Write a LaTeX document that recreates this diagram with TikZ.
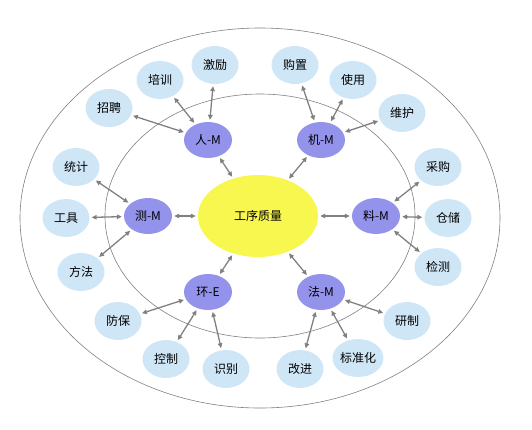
\documentclass[tikz,border=0pt]{standalone}
\usepackage{fontspec}
\newfontfamily\cjk{Noto Sans CJK SC}
\usepackage{tikz}
\usetikzlibrary{shapes.geometric,arrows.meta}

\definecolor{leafblue}{RGB}{207,230,247}
\definecolor{mpurple}{RGB}{147,147,236}
\definecolor{coreyellow}{RGB}{247,247,80}
\definecolor{linegray}{RGB}{128,128,128}

\tikzset{
  leaf/.style={ellipse, fill=leafblue, minimum width=47pt, minimum height=38pt, inner sep=0pt, font=\cjk\fontsize{12}{14}\selectfont},
  factor/.style={ellipse, fill=mpurple, minimum width=48pt, minimum height=36pt, inner sep=0pt, font=\cjk\fontsize{12}{14}\selectfont},
  link/.style={draw=linegray, line width=1.3pt, {Triangle[length=5pt,width=4.5pt]}-{Triangle[length=5pt,width=4.5pt]}, shorten <=2pt, shorten >=2pt}
}

\begin{document}
\begin{tikzpicture}[x=1pt,y=-1pt]
\useasboundingbox (0,0) rectangle (532,429);
% Two rings
\draw[linegray, line width=0.6pt] (260,218) ellipse [x radius=240, y radius=190];
\draw[linegray, line width=0.6pt] (260,216) ellipse [x radius=155, y radius=122];
% Core
\node[ellipse, fill=coreyellow, minimum width=120pt, minimum height=82pt, font=\cjk\fontsize{12}{14}\selectfont] (core) at (258,216) {工序质量};
% Six factors
\node[factor] (ren) at (208,140) {人-M};
\node[factor] (ji) at (321,140) {机-M};
\node[factor] (ce) at (148,216) {测-M};
\node[factor] (liao) at (376,216) {料-M};
\node[factor] (huan) at (208,292) {环-E};
\node[factor] (fa) at (321,292) {法-M};
% Leaves of 人
\node[leaf] (zhaopin) at (109,108) {招聘};
\node[leaf] (peixun) at (160,80) {培训};
\node[leaf] (jili) at (215,65) {激励};
% Leaves of 机
\node[leaf] (gouzhi) at (295,65) {购置};
\node[leaf] (shiyong) at (353,80) {使用};
\node[leaf] (weihu) at (402,113) {维护};
% Leaves of 测
\node[leaf] (tongji) at (76,167) {统计};
\node[leaf] (gongju) at (66,218) {工具};
\node[leaf] (fangfa) at (81,272) {方法};
% Leaves of 料
\node[leaf] (caigou) at (438,167) {采购};
\node[leaf] (cangchu) at (448,218) {仓储};
\node[leaf] (jiance) at (438,267) {检测};
% Leaves of 环
\node[leaf] (fangbao) at (118,321) {防保};
\node[leaf] (kongzhi) at (166,359) {控制};
\node[leaf] (shibie) at (226,369) {识别};
% Leaves of 法
\node[leaf] (gaijin) at (300,369) {改进};
\node[leaf] (biaozhun) at (358,358) {标准化};
\node[leaf] (yanzhi) at (407,321) {研制};
% Core links
\foreach \f in {ren,ji,ce,liao,huan,fa}
  \draw[link] (core) -- (\f);
% Leaf links
\foreach \f/\l in {ren/zhaopin,ren/peixun,ren/jili,ji/gouzhi,ji/shiyong,ji/weihu,
                   ce/tongji,ce/gongju,ce/fangfa,liao/caigou,liao/cangchu,liao/jiance,
                   huan/fangbao,huan/kongzhi,huan/shibie,fa/gaijin,fa/biaozhun,fa/yanzhi}
  \draw[link] (\f) -- (\l);
\end{tikzpicture}
\end{document}
